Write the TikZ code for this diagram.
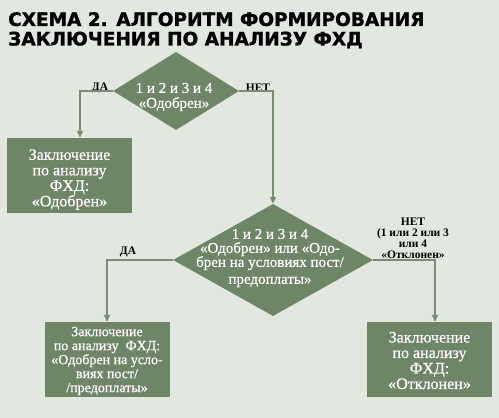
\documentclass[tikz,border=0pt]{standalone}
\usepackage{fontspec}
\setmainfont{Liberation Serif}[UprightFeatures={FakeBold=0.5}]
\newfontfamily\titlefont{DejaVu Sans}[BoldFeatures={FakeBold=1.5}]
\usetikzlibrary{shapes.geometric,arrows.meta}
\definecolor{bgc}{HTML}{E2E7DF}
\definecolor{boxc}{HTML}{6F8568}
\definecolor{linec}{HTML}{7B8B75}
\begin{document}
\begin{tikzpicture}[x=1pt,y=-1pt,
  box/.style={fill=boxc,inner sep=0pt,minimum width=125pt,minimum height=75pt},
  boxtext/.style={text=white,align=center,inner sep=0pt,font=\fontsize{16}{15.5}\selectfont},
  dia/.style={diamond,fill=boxc,inner sep=0pt},
  diatext/.style={text=white,align=center,inner sep=0pt},
  lab/.style={text=black,font=\bfseries\fontsize{11.5}{11}\selectfont,align=center,inner sep=0pt},
  arr/.style={draw=linec,line width=1.8pt,-{Triangle[width=6pt,length=7pt]}}]
\fill[bgc] (0,0) rectangle (499,418);
\useasboundingbox (0,0) rectangle (499,418);
\node[anchor=north west,inner sep=0pt,align=left,font=\titlefont\bfseries\fontsize{18.5}{19.5}\selectfont] (title) at (8,12)
  {СХЕМА 2. АЛГОРИТМ ФОРМИРОВАНИЯ\\ЗАКЛЮЧЕНИЯ ПО АНАЛИЗУ ФХД};
\node[dia,minimum width=126pt,minimum height=78pt] (d1) at (176,91) {};
\node[diatext,font=\fontsize{15}{15}\selectfont] (d1t) at (174,97) {1 и 2 и 3 и 4\\«Одобрен»};
\node[box] (b1) at (69.5,175.5) {};
\node[boxtext] (b1t) at ([yshift=-4pt]b1.center) {Заключение\\по анализу\\ФХД:\\«Одобрен»};
\node[dia,minimum width=200pt,minimum height=112pt] (d2) at (273,260) {};
\node[diatext,font=\fontsize{15}{14}\selectfont] (d2t) at (270,258) {1 и 2 и 3 и 4\\«Одобрен» или «Одо-\\брен на условиях пост/\\[3pt]предоплаты»};
\node[box] (b2) at (107,359.5) {};
\node[boxtext,font=\fontsize{14}{14}\selectfont] (b2t) at ([yshift=-1.5pt]b2.center) {Заключение\\по анализу\ \ ФХД:\\«Одобрен на усло-\\виях пост/\\/предоплаты»};
\node[box] (b3) at (429.5,359.5) {};
\node[boxtext] (b3t) at ([yshift=-1pt]b3.center) {Заключение\\по анализу\\ФХД:\\«Отклонен»};
\node[lab] (l1) at (100,88) {ДА};
\node[lab] (l2) at (258,88) {НЕТ};
\node[lab] (l3) at (128,252) {ДА};
\node[lab] (l4) at (413,238) {НЕТ\\(1 или 2 или 3\\или 4\\«Отклонен»};
\draw[arr] (d1.west) -| ([xshift=10.5pt]b1.north);
\draw[arr] (d1.east) -| (d2.north);
\draw[arr] (d2.west) -| (b2.north);
\draw[arr] (d2.east) -| ([xshift=5.5pt]b3.north);
\end{tikzpicture}
\end{document}
